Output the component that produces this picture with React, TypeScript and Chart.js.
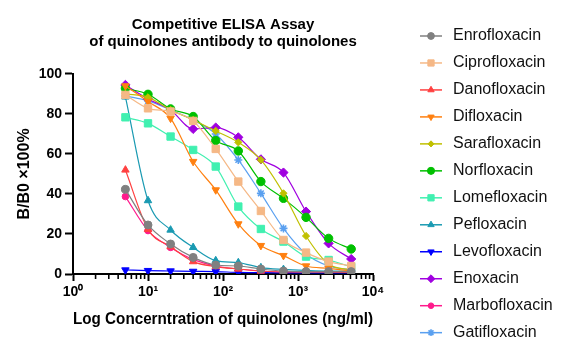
import React, { useEffect, useRef } from 'react';
import { Chart, registerables } from 'chart.js';
import { drawPoint } from 'chart.js/helpers';

Chart.register(...registerables);

// ---------- data ----------
const concentrations = [5, 10, 20, 40, 80, 160, 320, 640, 1280, 2560, 5120];

const seriesNames = [
  'Enrofloxacin', 'Ciprofloxacin', 'Danofloxacin', 'Difloxacin', 'Sarafloxacin', 'Norfloxacin',
  'Lomefloxacin', 'Pefloxacin', 'Levofloxacin', 'Enoxacin', 'Marbofloxacin', 'Gatifloxacin',
];

const enrofloxacin = [42.3, 24.5, 15, 8.3, 4.5, 4, 2.5, 1.5, 1.2, 1.2, 1.2];
const ciprofloxacin = [89.5, 82.8, 81.2, 76.5, 62.5, 46.2, 31.5, 17, 10.7, 6.2, 4];
const danofloxacin = [52, 22.3, 13.7, 6.2, 3.7, 2.5, 1.5, 1, 1, 1, 0.8];
const difloxacin = [94, 86.2, 77.8, 56.2, 42, 25, 14.2, 9.2, 4, 2.8, 1.5];
const sarafloxacin = [90, 88.3, 82, 77, 71.5, 65.8, 57, 40.3, 19, 5, 2];
const norfloxacin = [92.8, 89.8, 82.5, 78.7, 66.7, 61.5, 46.2, 37.8, 28.3, 17.8, 12.5];
const lomefloxacin = [78.3, 75.3, 68.7, 62, 53.7, 33.7, 22.5, 16.2, 8.7, 7, 3.5];
const pefloxacin = [88.5, 36.7, 22, 13.3, 6.7, 5.7, 3.2, 2.3, 1.8, 1.5, 1.5];
const levofloxacin = [2, 1.7, 1.5, 1.3, 1.2, 0.8, 0.7, 0.6, 0.5, 0.5, 0.5];
const enoxacin = [94.5, 87.5, 82, 72.5, 73.2, 68.3, 57.3, 50.7, 31.2, 15.3, 7.5];
const marbofloxacin = [38.7, 21.7, 13.3, 7.3, 4, 2.5, 1.5, 1, 1, 1, 1];
const gatifloxacin = [89, 86.5, 82, 77, 70, 57, 40.3, 22.8, 10, 4, 2];

const seriesValues = [
  enrofloxacin, ciprofloxacin, danofloxacin, difloxacin, sarafloxacin, norfloxacin,
  lomefloxacin, pefloxacin, levofloxacin, enoxacin, marbofloxacin, gatifloxacin,
];

const xTickValues = [1, 10, 100, 1000, 10000];
const xTickLabels = ['10\u2070', '10\u00B9', '10\u00B2', '10\u00B3', '10\u2074'];
const yTickValues = [0, 20, 40, 60, 80, 100];

const titleLines = ['Competitive ELISA Assay', 'of quinolones antibody to quinolones'];
const xTitle = 'Log Concerntration of quinolones (ng/ml)';
const yTitle = 'B/B0 \u00D7100%';

// ---------- styles ----------
const colors = [
  '#808080', '#F5B886', '#FF4040', '#FF8010', '#C0C000', '#00C000',
  '#40F0B0', '#1A9AB2', '#0000FF', '#A000E0', '#FF1A8C', '#5AA0F0',
];
const pointStyles = [
  'circle', 'rect', 'triangle', 'triangle', 'rectRot', 'circle',
  'rect', 'triangle', 'triangle', 'rectRot', 'circle', 'star',
];
const pointRotations = [0, 0, 0, 180, 0, 0, 0, 0, 180, 0, 0, 0];
const pointRadii = [4, 5.2, 4.3, 4.3, 3.6, 4.2, 5.2, 4.3, 4.3, 4.6, 3.3, 4];

const FONT = '"Liberation Sans", Arial, Helvetica, sans-serif';

const sideLegend = {
  id: 'sideLegend',
  afterDraw(chart: any) {
    const ctx = chart.ctx;
    chart.data.datasets.forEach((ds: any, i: number) => {
      const y = 36 + 26.97 * i;
      ctx.save();
      ctx.strokeStyle = ds.borderColor;
      ctx.lineWidth = 1.5;
      ctx.beginPath();
      ctx.moveTo(420, y);
      ctx.lineTo(442, y);
      ctx.stroke();
      ctx.fillStyle = ds.pointBackgroundColor;
      ctx.strokeStyle = ds.pointBorderColor;
      ctx.lineWidth = ds.pointBorderWidth;
      drawPoint(ctx, {
        pointStyle: ds.pointStyle,
        rotation: ds.pointRotation || 0,
        radius: ds.pointRadius * 0.85,
        borderWidth: ds.pointBorderWidth,
      }, 431, y);
      ctx.fillStyle = '#111';
      ctx.font = '16px ' + FONT;
      ctx.textBaseline = 'middle';
      ctx.textAlign = 'left';
      ctx.fillText(ds.label, 453, y);
      ctx.restore();
    });
  },
};

const minorTicks = {
  id: 'minorTicks',
  afterDraw(chart: any) {
    const xs = chart.scales.x;
    const ctx = chart.ctx;
    const bottom = chart.chartArea.bottom;
    ctx.save();
    ctx.strokeStyle = '#000';
    ctx.lineWidth = 1.6;
    for (let d = 0; d < xTickValues.length - 1; d++) {
      for (let m = 2; m <= 9; m++) {
        const px = xs.getPixelForValue(m * xTickValues[d]);
        ctx.beginPath();
        ctx.moveTo(px, bottom);
        ctx.lineTo(px, bottom + 5);
        ctx.stroke();
      }
    }
    ctx.restore();
  },
};

export default function App() {
  const ref = useRef<HTMLCanvasElement | null>(null);

  useEffect(() => {
    if (!ref.current) return;
    const datasets = seriesNames.map((name, i) => ({
      label: name,
      data: concentrations.map((c, j) => ({ x: c, y: seriesValues[i][j] })),
      borderColor: colors[i],
      backgroundColor: colors[i],
      pointBackgroundColor: colors[i],
      pointBorderColor: colors[i],
      pointBorderWidth: pointStyles[i] === 'star' ? 1.6 : 1,
      pointStyle: pointStyles[i],
      pointRotation: pointRotations[i],
      pointRadius: pointRadii[i],
      borderWidth: 1.2,
      cubicInterpolationMode: 'monotone' as const,
      fill: false,
    }));

    const chart = new Chart(ref.current, {
      type: 'line',
      data: { datasets },
      plugins: [sideLegend, minorTicks],
      options: {
        responsive: false,
        animation: false,
        events: [],
        layout: { padding: { top: 0, right: 195, bottom: 0, left: 0 } },
        plugins: {
          legend: { display: false },
          tooltip: { enabled: false },
          title: {
            display: true,
            text: titleLines,
            fullSize: false,
            color: '#000',
            font: { family: FONT, size: 15, weight: 'bold', lineHeight: 1.13 },
            padding: { top: 16, bottom: 24 },
          },
        },
        scales: {
          x: {
            type: 'logarithmic',
            min: 1,
            max: 10000,
            afterBuildTicks: (s: any) => {
              s.ticks = xTickValues.map((v) => ({ value: v }));
            },
            afterFit: (s: any) => {
              s.height = 83;
            },
            grid: { display: true, drawOnChartArea: false, tickLength: 7, tickWidth: 2, tickColor: '#000' },
            border: { display: true, color: '#000', width: 2 },
            ticks: {
              autoSkip: false,
              maxRotation: 0,
              padding: 3,
              color: '#000',
              font: { family: FONT, size: 14, weight: 'bold' },
              callback: (v: any) => {
                const idx = xTickValues.indexOf(Number(v));
                return idx >= 0 ? xTickLabels[idx] : '';
              },
            },
            title: {
              display: true,
              text: xTitle,
              color: '#000',
              font: { family: FONT, size: 16.5, weight: 'bold' },
              padding: { top: 0, bottom: 28 },
            },
          },
          y: {
            min: 0,
            max: 100,
            afterBuildTicks: (s: any) => {
              s.ticks = yTickValues.map((v) => ({ value: v }));
            },
            afterFit: (s: any) => {
              s.width = 73;
            },
            grid: { display: true, drawOnChartArea: false, tickLength: 8, tickWidth: 2, tickColor: '#000' },
            border: { display: true, color: '#000', width: 2 },
            ticks: {
              padding: 3,
              color: '#000',
              font: { family: FONT, size: 14, weight: 'bold' },
            },
            title: {
              display: true,
              text: yTitle,
              color: '#000',
              font: { family: FONT, size: 16, weight: 'bold' },
              padding: { top: 15, bottom: 0 },
            },
          },
        },
      } as any,
    });
    return () => chart.destroy();
  }, []);

  return (
    <div style={{ position: 'absolute', left: 0, top: 0, width: 568, height: 357, background: '#fff' }}>
      <canvas ref={ref} width={568} height={357} style={{ display: 'block' }} />
    </div>
  );
}
